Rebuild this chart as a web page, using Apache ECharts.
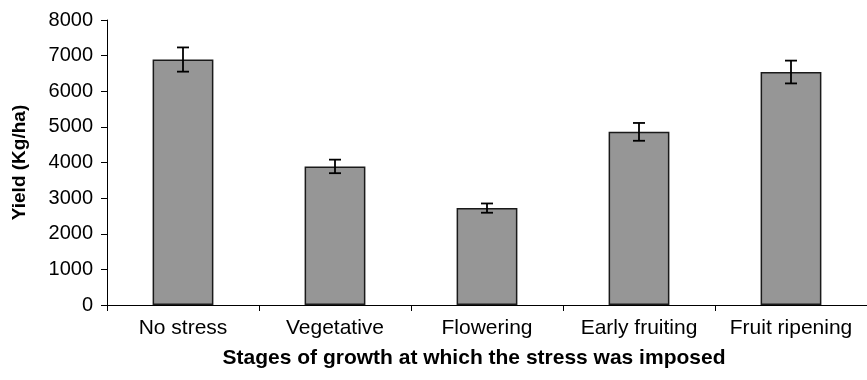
<!DOCTYPE html>
<html>
<head>
<meta charset="utf-8">
<script src="https://cdn.jsdelivr.net/npm/echarts@6/dist/echarts.min.js"></script>
<style>
  html, body { margin: 0; padding: 0; background: #fff; }
  #chart { width: 867px; height: 380px; }
</style>
</head>
<body>
<div id="chart"></div>
<script>
// 生长阶段
var stages = ['No stress', 'Vegetative', 'Flowering', 'Early fruiting', 'Fruit ripening'];
// 产量 (Kg/ha)
var yieldValues = [6890, 3890, 2720, 4860, 6540];
// 误差
var errorValues = [340, 190, 130, 250, 320];

var fontName = 'Liberation Sans';

var errorData = yieldValues.map(function (v, i) {
  return [i, v - errorValues[i], v + errorValues[i]];
});

var chart = echarts.init(document.getElementById('chart'));

var option = {
  animation: false,
  backgroundColor: '#fff',
  grid: {
    left: 107,
    right: -9,
    top: 20,
    bottom: 75
  },
  xAxis: {
    type: 'category',
    data: stages,
    name: 'Stages of growth at which the stress was imposed',
    nameLocation: 'middle',
    nameGap: 43,
    nameTextStyle: {
      fontFamily: fontName,
      fontSize: 21,
      fontWeight: 'bold',
      color: '#000',
      padding: [0, 26, 0, 0]
    },
    axisLine: { lineStyle: { color: '#000', width: 1 } },
    axisTick: { show: true, length: 6, lineStyle: { color: '#000' } },
    axisLabel: {
      fontFamily: fontName,
      fontSize: 21,
      color: '#000',
      margin: 13,
      interval: 0
    },
    splitLine: { show: false }
  },
  yAxis: {
    type: 'value',
    min: 0,
    max: 8000,
    interval: 1000,
    name: 'Yield (Kg/ha)',
    nameLocation: 'middle',
    nameRotate: 90,
    nameGap: 78,
    nameTextStyle: {
      fontFamily: fontName,
      fontSize: 19,
      fontWeight: 'bold',
      color: '#000'
    },
    axisLine: { show: true, lineStyle: { color: '#000', width: 1 } },
    axisTick: { show: true, length: 6, lineStyle: { color: '#000' } },
    axisLabel: {
      fontFamily: fontName,
      fontSize: 20,
      color: '#000',
      margin: 14,
      formatter: function (v) { return String(v); }
    },
    splitLine: { show: false }
  },
  series: [
    {
      name: 'Yield',
      type: 'bar',
      data: yieldValues,
      barWidth: '40%',
      itemStyle: {
        color: '#969696',
        borderColor: '#1a1a1a',
        borderWidth: 1.5
      }
    },
    {
      name: 'Error',
      type: 'custom',
      data: errorData,
      z: 10,
      renderItem: function (params, api) {
        var x = api.value(0);
        var low = api.coord([x, api.value(1)]);
        var high = api.coord([x, api.value(2)]);
        var half = 6;
        var style = { stroke: '#000', lineWidth: 1.8 };
        return {
          type: 'group',
          children: [
            { type: 'line', shape: { x1: high[0], y1: high[1], x2: low[0], y2: low[1] }, style: style },
            { type: 'line', shape: { x1: high[0] - half, y1: high[1], x2: high[0] + half, y2: high[1] }, style: style },
            { type: 'line', shape: { x1: low[0] - half, y1: low[1], x2: low[0] + half, y2: low[1] }, style: style }
          ]
        };
      }
    }
  ]
};

chart.setOption(option);
</script>
</body>
</html>
